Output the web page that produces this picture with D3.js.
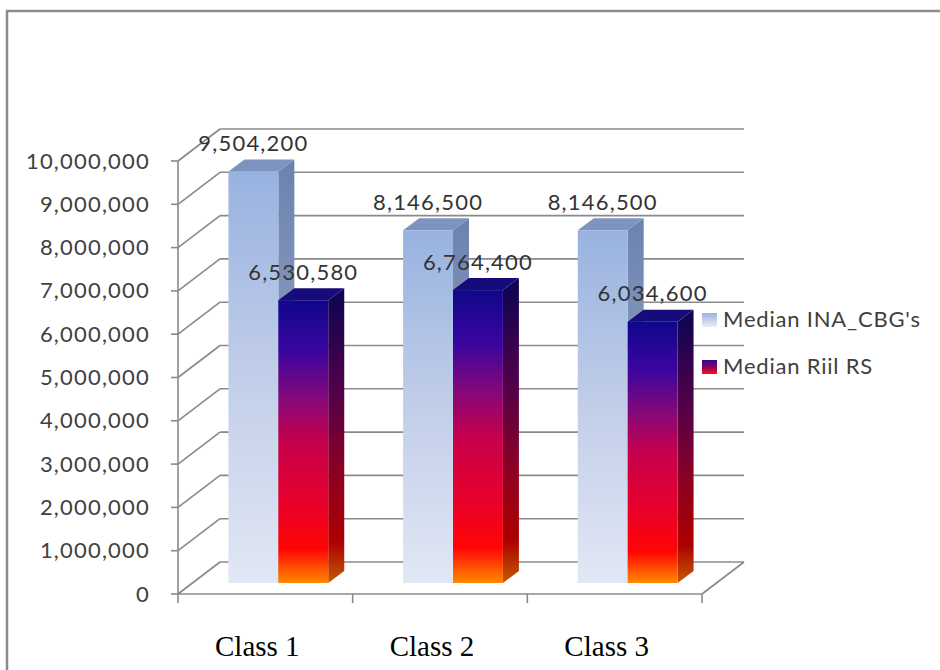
<!DOCTYPE html>
<html>
<head>
<meta charset="utf-8">
<script src="https://cdn.jsdelivr.net/npm/d3@7"></script>
<style>
  html, body { margin: 0; padding: 0; background: #fff; }
  svg { display: block; }
</style>
</head>
<body>
<svg id="chart" width="940" height="670"></svg>
<script>
// Median values per class
const categories = ["Class 1", "Class 2", "Class 3"];
const seriesNames = ["Median INA_CBG's", "Median Riil RS"];
const inaCbg = [9504200, 8146500, 8146500];
const riilRs = [6530580, 6764400, 6034600];
const yTicks = [0, 1000000, 2000000, 3000000, 4000000, 5000000, 6000000, 7000000, 8000000, 9000000, 10000000];

const svg = d3.select("#chart");
const W = 940, H = 670;

// Outer frame
svg.append("path")
  .attr("d", `M7,${H + 5} L7,11 L${W + 5},11`)
  .attr("fill", "none").attr("stroke", "#8c8c8c").attr("stroke-width", 2.5);

// 3D projection: front plane scales plus a depth offset vector
const x = d3.scaleBand().domain(categories).range([178, 702]);
const y = d3.scaleLinear().domain([0, 10000000]).range([594, 161]);
const depth = { dx: 42, dy: -32 };        // full floor depth
const barPlane = { dx: 13, dy: -11 };     // front face of bars
const barDepth = { dx: 16, dy: -12 };     // thickness of bars

const inner = d3.scaleBand().domain(seriesNames).range([0, x.bandwidth()]).paddingOuter(0.75);

const gridColor = "#8a8a8a";
const grid = svg.append("g").attr("fill", "none").attr("stroke", gridColor).attr("stroke-width", 1.6);

// Back wall gridlines and side wall diagonals
yTicks.forEach(v => {
  const fy = y(v);
  grid.append("line")
    .attr("x1", x.range()[0] + depth.dx).attr("x2", x.range()[1] + depth.dx)
    .attr("y1", fy + depth.dy).attr("y2", fy + depth.dy);
  grid.append("line")
    .attr("x1", x.range()[0]).attr("y1", fy)
    .attr("x2", x.range()[0] + depth.dx).attr("y2", fy + depth.dy);
  grid.append("line")
    .attr("x1", x.range()[0] - 7).attr("x2", x.range()[0])
    .attr("y1", fy).attr("y2", fy);
});

// Front vertical axis
grid.append("line")
  .attr("x1", x.range()[0]).attr("x2", x.range()[0])
  .attr("y1", y(0)).attr("y2", y(10000000));

// Floor front edge and right edge
grid.append("line")
  .attr("x1", x.range()[0]).attr("x2", x.range()[1])
  .attr("y1", y(0)).attr("y2", y(0));
grid.append("line")
  .attr("x1", x.range()[1]).attr("y1", y(0))
  .attr("x2", x.range()[1] + depth.dx).attr("y2", y(0) + depth.dy);

// Category boundary ticks
const bounds = categories.map(c => x(c)).concat([x.range()[1]]);
bounds.forEach(bx => {
  grid.append("line")
    .attr("x1", bx).attr("x2", bx)
    .attr("y1", y(0)).attr("y2", y(0) + 9);
});

// Y axis labels
const fmt = d3.format(",");
svg.append("g").selectAll("text")
  .data(yTicks).join("text")
  .attr("x", 150).attr("y", d => y(d) + 2)
  .attr("text-anchor", "end").attr("dominant-baseline", "middle")
  .attr("font-family", "Lato, 'Open Sans', sans-serif")
  .attr("font-size", 22).attr("letter-spacing", 1.2)
  .attr("fill", "#404040")
  .text(d => fmt(d));

// Gradients
const defs = svg.append("defs");
function vGrad(id, stops) {
  const g = defs.append("linearGradient").attr("id", id)
    .attr("x1", 0).attr("y1", 0).attr("x2", 0).attr("y2", 1);
  stops.forEach(([o, c]) => g.append("stop").attr("offset", o).attr("stop-color", c));
}
vGrad("blueFront", [[0, "#98b2e0"], [0.5, "#c2cee9"], [1, "#e1e7f4"]]);
vGrad("blueSide", [[0, "#6c82ad"], [1, "#aab8d6"]]);
vGrad("redFront", [[0, "#10078a"], [0.18, "#3a05a0"], [0.35, "#860878"], [0.5, "#c6004c"], [0.7, "#e5002e"], [0.88, "#ff0505"], [1, "#ff8a00"]]);
vGrad("redSide", [[0, "#0a0552"], [0.35, "#52004a"], [0.6, "#880026"], [0.86, "#ad0000"], [1, "#c45a00"]]);
vGrad("legBlue", [[0, "#9ab3e1"], [1, "#eaeef8"]]);
vGrad("legRed", [[0, "#2a0a90"], [0.5, "#8a0060"], [1, "#ff1010"]]);

const styles = [
  { front: "url(#blueFront)", side: "url(#blueSide)", top: "#7e94bf" },
  { front: "url(#redFront)", side: "url(#redSide)", top: "#170a7a" }
];
const seriesValues = [inaCbg, riilRs];

// Bars, drawn left to right so nearer neighbours cover hidden faces
const barsG = svg.append("g");
const labelData = [];
categories.forEach((c, ci) => {
  seriesNames.forEach((s, si) => {
    const v = seriesValues[si][ci];
    const x0 = x(c) + inner(s) + barPlane.dx;
    const x1 = x0 + inner.bandwidth();
    const yTop = y(v) + barPlane.dy;
    const yBot = y(0) + barPlane.dy;
    const st = styles[si];
    const g = barsG.append("g");
    // right side face
    g.append("path")
      .attr("d", `M${x1},${yTop} L${x1 + barDepth.dx},${yTop + barDepth.dy} L${x1 + barDepth.dx},${yBot + barDepth.dy} L${x1},${yBot} Z`)
      .attr("fill", st.side);
    // top face
    g.append("path")
      .attr("d", `M${x0},${yTop} L${x1},${yTop} L${x1 + barDepth.dx},${yTop + barDepth.dy} L${x0 + barDepth.dx},${yTop + barDepth.dy} Z`)
      .attr("fill", st.top);
    // front face
    g.append("rect")
      .attr("x", x0).attr("y", yTop)
      .attr("width", x1 - x0).attr("height", yBot - yTop)
      .attr("fill", st.front);
    labelData.push({ v, cx: (x0 + x1) / 2, cy: yTop + barDepth.dy - 14 });
  });
});

// Value labels
svg.append("g").selectAll("text")
  .data(labelData).join("text")
  .attr("x", d => d.cx).attr("y", d => d.cy)
  .attr("text-anchor", "middle").attr("dominant-baseline", "middle")
  .attr("font-family", "Lato, 'Open Sans', sans-serif")
  .attr("font-size", 22).attr("letter-spacing", 1.2)
  .attr("fill", "#333333")
  .text(d => fmt(d.v));

// Category labels
svg.append("g").selectAll("text")
  .data(categories).join("text")
  .attr("x", d => x(d) + x.bandwidth() / 2 - 8)
  .attr("y", 656)
  .attr("text-anchor", "middle")
  .attr("font-family", "'Liberation Serif', 'Times New Roman', serif")
  .attr("font-size", 29)
  .attr("fill", "#000")
  .text(d => d);

// Legend
const legend = svg.append("g").attr("transform", "translate(702,313)");
const legFills = ["url(#legBlue)", "url(#legRed)"];
seriesNames.forEach((s, i) => {
  const row = legend.append("g").attr("transform", `translate(0,${i * 47})`);
  row.append("rect").attr("width", 15).attr("height", 14).attr("fill", legFills[i]);
  row.append("text")
    .attr("x", 21).attr("y", 8)
    .attr("dominant-baseline", "middle")
    .attr("font-family", "Lato, 'Open Sans', sans-serif")
    .attr("font-size", 22).attr("letter-spacing", 0.8)
    .attr("fill", "#404040")
    .text(s);
});
</script>
</body>
</html>
